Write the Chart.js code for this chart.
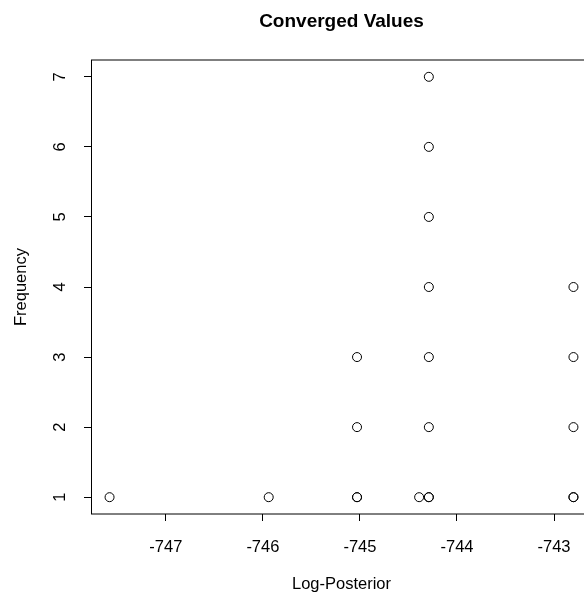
<!DOCTYPE html>
<html>
<head>
<meta charset="utf-8">
<script src="https://cdn.jsdelivr.net/npm/chart.js@4/dist/chart.umd.min.js"></script>
<style>
  html, body { margin: 0; padding: 0; background: #fff; overflow: hidden; }
  canvas { display: block; }
</style>
</head>
<body>
<canvas id="convChart" width="600" height="597"></canvas>
<script>
// Data
const logPosterior = [-747.58, -745.94, -745.03, -745.03, -745.03, -745.03, -744.39,
  -744.29, -744.29, -744.29, -744.29, -744.29, -744.29, -744.29, -744.29,
  -742.80, -742.80, -742.80, -742.80, -742.80];
const frequency = [1, 1, 1, 1, 2, 3, 1,
  1, 1, 2, 3, 4, 5, 6, 7,
  1, 1, 2, 3, 4];
const xTicks = [-747, -746, -745, -744, -743];
const yTicks = [1, 2, 3, 4, 5, 6, 7];

const FONT = '"Liberation Sans", Arial, Helvetica, sans-serif';

// R-style 4% padding around the data range
const xLo = Math.min(...logPosterior), xHi = Math.max(...logPosterior);
const yLo = Math.min(...frequency), yHi = Math.max(...frequency);
const xPad = (xHi - xLo) * 0.04, yPad = (yHi - yLo) * 0.04;

const points = logPosterior.map((x, i) => ({ x: x, y: frequency[i] }));

// box, main title and axis titles drawn like base R graphics
const rFrame = {
  id: 'rFrame',
  afterDraw(chart) {
    const { ctx, chartArea: a } = chart;
    ctx.save();
    ctx.strokeStyle = '#000';
    ctx.lineWidth = 1;
    ctx.strokeRect(a.left + 0.5, a.top, a.right - a.left, a.bottom - a.top);
    ctx.fillStyle = '#000';
    ctx.textAlign = 'center';
    ctx.textBaseline = 'alphabetic';
    const cx = (a.left + a.right) / 2;
    ctx.font = 'bold 19px ' + FONT;
    ctx.fillText('Converged Values', cx, 27);
    ctx.font = '16.5px ' + FONT;
    ctx.fillText('Log-Posterior', cx, 589);
    ctx.translate(26, (a.top + a.bottom) / 2);
    ctx.rotate(-Math.PI / 2);
    ctx.fillText('Frequency', 0, 0);
    ctx.restore();
  }
};

new Chart(document.getElementById('convChart'), {
  type: 'scatter',
  data: {
    datasets: [{
      data: points,
      pointStyle: 'circle',
      pointRadius: 4.5,
      pointHoverRadius: 4.5,
      borderWidth: 1,
      borderColor: '#000',
      backgroundColor: 'rgba(0,0,0,0)'
    }]
  },
  options: {
    responsive: false,
    animation: false,
    events: [],
    layout: { padding: { top: 60, right: 8, left: 0, bottom: 0 } },
    plugins: { legend: { display: false }, tooltip: { enabled: false } },
    scales: {
      x: {
        type: 'linear',
        min: xLo - xPad,
        max: xHi + xPad,
        afterBuildTicks: s => { s.ticks = xTicks.map(v => ({ value: v })); },
        afterFit: s => { s.height = 83; },
        border: { display: false },
        grid: { drawOnChartArea: false, drawTicks: true, tickLength: 7, color: '#000' },
        ticks: {
          color: '#000',
          padding: 17,
          maxRotation: 0,
          autoSkip: false,
          font: { family: FONT, size: 16.5 }
        }
      },
      y: {
        type: 'linear',
        min: yLo - yPad,
        max: yHi + yPad,
        afterBuildTicks: s => { s.ticks = yTicks.map(v => ({ value: v })); },
        afterFit: s => { s.width = 91; },
        border: { display: false },
        grid: { drawOnChartArea: false, drawTicks: true, tickLength: 7, color: '#000' },
        ticks: {
          color: '#000',
          padding: 19,
          minRotation: 90,
          maxRotation: 90,
          crossAlign: 'center',
          autoSkip: false,
          font: { family: FONT, size: 16.5 }
        }
      }
    }
  },
  plugins: [rFrame]
});
</script>
</body>
</html>
